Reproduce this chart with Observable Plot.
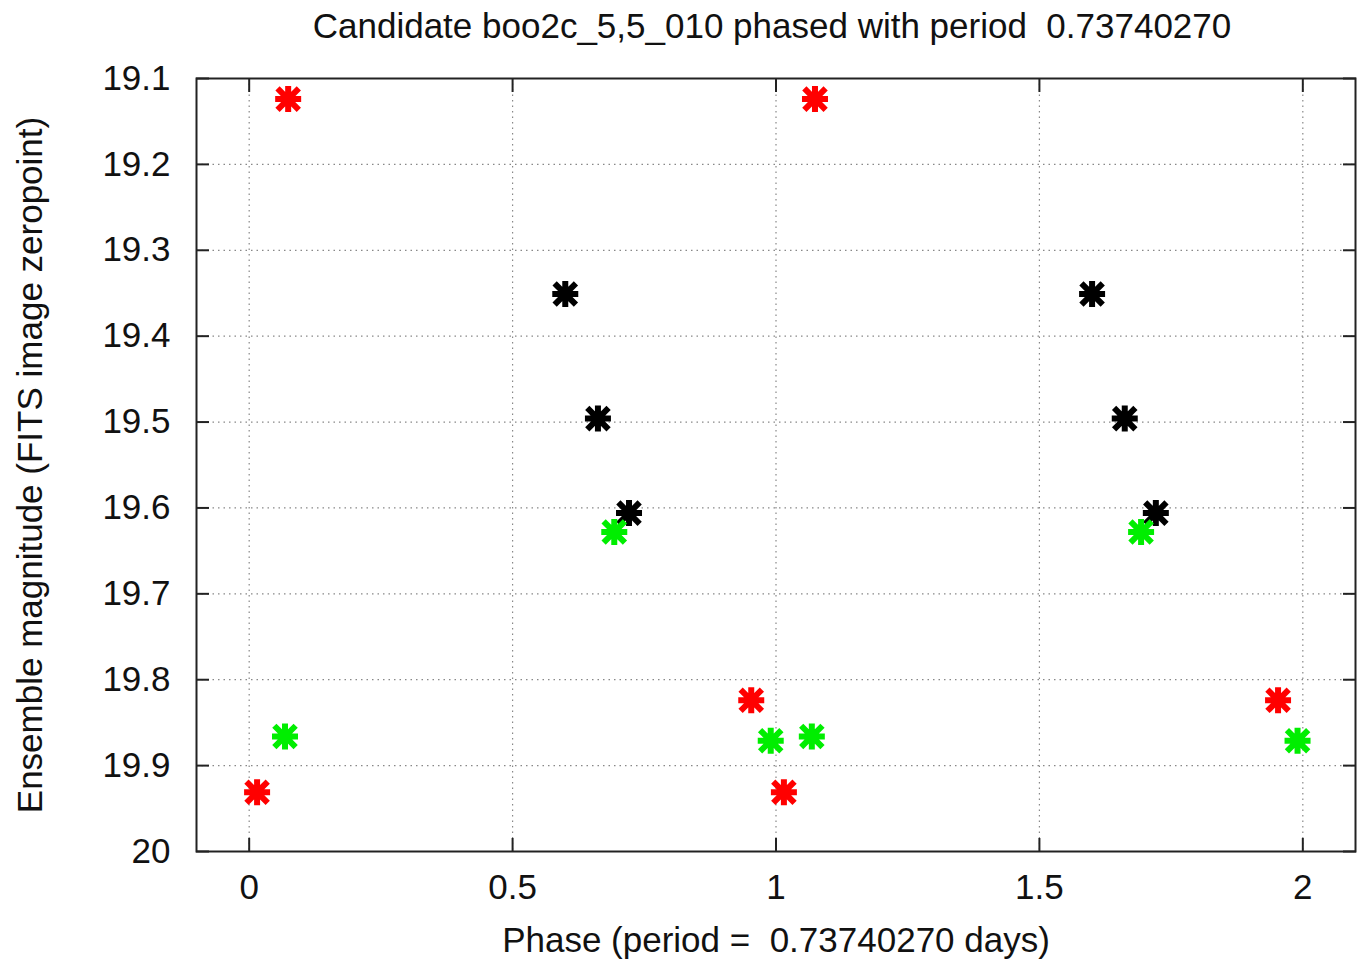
<!DOCTYPE html>
<html><head><meta charset="utf-8">
<script src="https://cdn.jsdelivr.net/npm/d3@7"></script>
<script src="https://cdn.jsdelivr.net/npm/@observablehq/plot@0.6"></script>
<style>
body{margin:0;background:#fff;}
svg text{white-space:pre;}
</style></head><body><div id="chart"></div>
<script>
const titleText = "Candidate boo2c_5,5_010 phased with period  0.73740270";
const xLabel = "Phase (period =  0.73740270 days)";
const yLabel = "Ensemble magnitude (FITS image zeropoint)";
const xTicks = [0, 0.5, 1, 1.5, 2];
const yTicks = [19.1, 19.2, 19.3, 19.4, 19.5, 19.6, 19.7, 19.8, 19.9, 20];

const blackPhase = [0.600, 0.662, 0.721, 1.600, 1.662, 1.721];
const blackMag   = [19.351, 19.496, 19.606, 19.351, 19.496, 19.606];
const greenPhase = [0.068, 0.693, 0.990, 1.068, 1.693, 1.990];
const greenMag   = [19.866, 19.628, 19.871, 19.866, 19.628, 19.871];
const redPhase   = [0.015, 0.074, 0.953, 1.015, 1.074, 1.953];
const redMag     = [19.931, 19.124, 19.824, 19.931, 19.124, 19.824];

const series = [
  {color: "#000000", phase: blackPhase, mag: blackMag},
  {color: "#00ee00", phase: greenPhase, mag: greenMag},
  {color: "#ff0000", phase: redPhase, mag: redMag}
];
const points = series.flatMap(s => s.phase.map((p, i) => ({phase: p, mag: s.mag[i], color: s.color})));

const star = {
  draw(ctx, size) {
    const r = Math.sqrt(size / Math.PI);
    const d = r * 0.82;
    ctx.moveTo(-r, 0); ctx.lineTo(r, 0);
    ctx.moveTo(0, -r); ctx.lineTo(0, r);
    ctx.moveTo(-d, -d); ctx.lineTo(d, d);
    ctx.moveTo(-d, d); ctx.lineTo(d, -d);
  }
};

const font = "Liberation Sans, Arial, Helvetica, sans-serif";
const fs = 35;
const fmt = d3.format("~g");
const tickStyle = {stroke: "#222", strokeWidth: 2, tickSize: 13, tickFormat: () => "", label: null};

const chart = Plot.plot({
  width: 1357,
  height: 961,
  marginLeft: 196,
  marginRight: 2,
  marginTop: 78,
  marginBottom: 110,
  style: {fontFamily: font, fontSize: fs + "px", background: "#fff", color: "#111"},
  x: {domain: [-0.1, 2.1], label: null},
  y: {domain: [19.1, 20], reverse: true, label: null},
  marks: [
    Plot.gridX(xTicks, {stroke: "#888", strokeOpacity: 1, strokeWidth: 1.2, strokeDasharray: "1.5,4"}),
    Plot.gridY(yTicks, {stroke: "#888", strokeOpacity: 1, strokeWidth: 1.2, strokeDasharray: "1.5,4"}),
    Plot.axisX(xTicks, {anchor: "bottom", ...tickStyle, dy: -13}),
    Plot.axisX(xTicks, {anchor: "top", ...tickStyle, dy: 13}),
    Plot.axisY(yTicks, {anchor: "left", ...tickStyle, dx: 13}),
    Plot.axisY(yTicks, {anchor: "right", ...tickStyle, dx: -13}),
    Plot.axisX(xTicks, {anchor: "bottom", tickSize: 0, tickPadding: 23, tickFormat: fmt, fontSize: fs, fill: "#111", label: null}),
    Plot.axisY(yTicks, {anchor: "left", tickSize: 0, tickPadding: 26, tickFormat: fmt, fontSize: fs, fill: "#111", label: null}),
    Plot.frame({stroke: "#222", strokeWidth: 2}),
    Plot.dot(points, {x: "phase", y: "mag", stroke: "color", fill: "none", symbol: star, r: 13, strokeWidth: 6}),
    Plot.text([titleText], {text: d => d, frameAnchor: "top", dy: -52, dx: -4, fontSize: fs, fill: "#111", textAnchor: "middle", lineAnchor: "middle"}),
    Plot.text([xLabel], {text: d => d, frameAnchor: "bottom", dy: 89, fontSize: fs, fill: "#111", textAnchor: "middle", lineAnchor: "middle"}),
    Plot.text([yLabel], {text: d => d, frameAnchor: "left", dx: -166, rotate: -90, fontSize: fs, fill: "#111", textAnchor: "middle", lineAnchor: "middle"})
  ]
});
document.getElementById("chart").appendChild(chart);
</script></body></html>
